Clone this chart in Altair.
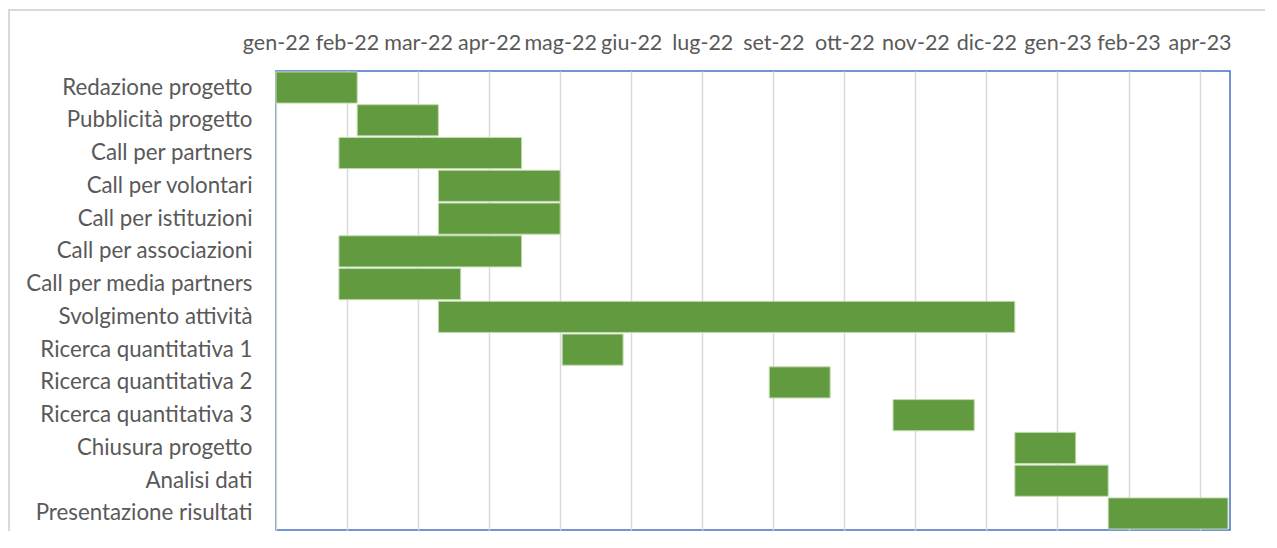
import altair as alt
import pandas as pd

tasks = [
    "Redazione progetto", "Pubblicità progetto", "Call per partners",
    "Call per volontari", "Call per istituzioni", "Call per associazioni",
    "Call per media partners", "Svolgimento attività", "Ricerca quantitativa 1",
    "Ricerca quantitativa 2", "Ricerca quantitativa 3", "Chiusura progetto",
    "Analisi dati", "Presentazione risultati",
]
starts = [
    "2022-01-01", "2022-02-10", "2022-02-01", "2022-03-22", "2022-03-22",
    "2022-02-01", "2022-02-01", "2022-03-22", "2022-05-22", "2022-09-01",
    "2022-11-01", "2022-12-31", "2022-12-31", "2023-02-15",
]
ends = [
    "2022-02-10", "2022-03-22", "2022-05-02", "2022-05-21", "2022-05-21",
    "2022-05-02", "2022-04-02", "2022-12-31", "2022-06-21", "2022-10-01",
    "2022-12-11", "2023-01-30", "2023-02-15", "2023-04-15",
]
tick_dates = [
    "2022-01-01", "2022-02-05", "2022-03-12", "2022-04-16", "2022-05-21",
    "2022-06-25", "2022-07-30", "2022-09-03", "2022-10-08", "2022-11-12",
    "2022-12-17", "2023-01-21", "2023-02-25", "2023-04-01",
]
domain_dates = ["2022-01-01", "2023-04-16"]
month_names = ["gen", "feb", "mar", "apr", "mag", "giu", "lug", "ago", "set", "ott", "nov", "dic"]


def dt(s):
    y, m, d = (int(p) for p in s.split("-"))
    return alt.DateTime(year=y, month=m, date=d, utc=True)


df = pd.DataFrame({"task": tasks, "start": starts, "end": ends})

W, H = 954, 459
FONT = "Lato"
TXT = "#595959"

label_expr = (
    "[" + ",".join("'%s'" % m for m in month_names) + "][utcmonth(datum.value)]"
    " + '-' + utcFormat(datum.value, '%y')"
)

bars = alt.Chart(df).mark_bar(
    color="#629a3f", stroke="#c2dbb0", strokeWidth=1, cornerRadius=0
).encode(
    x=alt.X(
        "start:T",
        scale=alt.Scale(type="utc", domain=[dt(d) for d in domain_dates], nice=False),
        axis=alt.Axis(
            orient="top", values=[dt(d) for d in tick_dates], labelExpr=label_expr,
            title=None, domain=False, ticks=False, grid=True, gridColor="#d9d9d9",
            gridWidth=1.5, labelFont=FONT, labelFontSize=21.5, labelColor=TXT,
            labelPadding=17, labelFlush=False, labelOverlap=False,
        ),
    ),
    x2="end:T",
    y=alt.Y(
        "task:N", sort=tasks,
        scale=alt.Scale(paddingInner=0.05, paddingOuter=0.03),
        axis=alt.Axis(
            title=None, domain=False, ticks=False, labelFont=FONT, labelFontSize=22.3,
            labelColor=TXT, labelPadding=24, labelLimit=400,
        ),
    ),
)

frame = alt.Chart(pd.DataFrame({"k": [0]})).mark_rect(
    filled=False, stroke="#d9d9d9", strokeWidth=2
).encode(
    x=alt.value(-267), x2=alt.value(W + 60), y=alt.value(-61), y2=alt.value(H + 40)
)

chart = alt.layer(frame, bars).properties(
    width=W, height=H,
    padding={"left": 268, "top": 63, "right": 35, "bottom": 1},
    autosize="none",
    background="white",
).configure_view(
    stroke="#4472c4", strokeWidth=1.5
)

chart.save("out.html", embed_options={"renderer": "svg", "actions": False})
